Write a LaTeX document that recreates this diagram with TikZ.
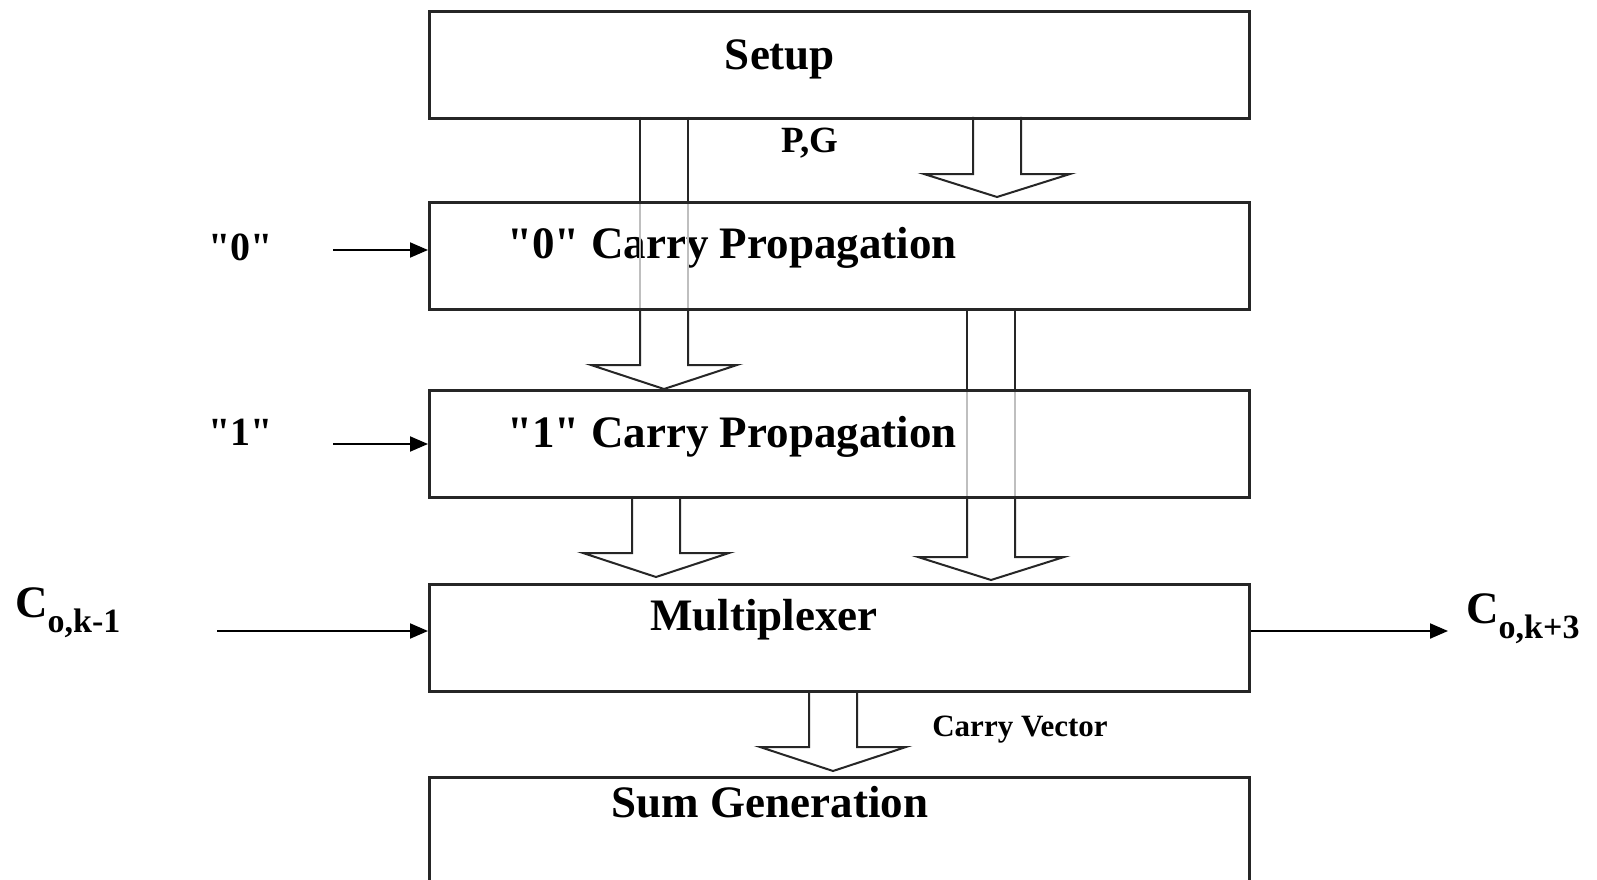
\documentclass[tikz,border=0pt]{standalone}
\usepackage{fontspec}
\setmainfont{Liberation Serif}
\usetikzlibrary{arrows.meta,calc}
\tikzset{
  blk/.style={draw=black!85, line width=2.6pt, minimum width=820pt, minimum height=107pt, inner sep=0pt, anchor=north west},
  bigtxt/.style={font=\fontsize{45}{54}\selectfont\bfseries, inner sep=0pt},
  midtxt/.style={font=\fontsize{40}{48}\selectfont\bfseries, inner sep=0pt},
  pgtxt/.style={font=\fontsize{37}{44}\selectfont\bfseries, inner sep=0pt},
  smtxt/.style={font=\fontsize{31}{38}\selectfont\bfseries, inner sep=0pt},
  arr/.style={line width=2pt, -{Triangle[length=18pt,width=15pt]}},
  hollow/.style={draw=black!85, line width=2pt, line join=miter},
  faint/.style={draw=black!25, line width=1.2pt}
}
% hollow arrow: #1 centre x, #2 top y, #3 wing y, #4 tip y
\newcommand\hollowarrow[4]{%
  \draw[hollow] (#1-24,#2) -- (#1-24,#3) -- (#1-73,#3) -- (#1,#4) -- (#1+73,#3) -- (#1+24,#3) -- (#1+24,#2);}
\newcommand\qq{\textquotedbl}
\begin{document}
\begin{tikzpicture}[x=1pt,y=-1pt]
\clip (0,0) rectangle (1597,880);
\useasboundingbox (0,0) rectangle (1597,880);
\fill[white] (0,0) rectangle (1597,880);

% boxes
\node[blk] (setup) at (428,10) {};
\node[blk] (zero) at (428,201) {};
\node[blk] (one) at (428,389) {};
\node[blk] (mux) at (428,583) {};
\node[blk, minimum height=140pt] (sum) at (428,776) {};

% box texts
\node[bigtxt] (setupT) at (780,59) {Setup};
\node[bigtxt] (zeroT) at (732,248) {\qq0\qq{} Carry Propagation};
\node[bigtxt] (oneT) at (732,437) {\qq1\qq{} Carry Propagation};
\node[bigtxt] (muxT) at (764,620) {Multiplexer};
\node[bigtxt] (sumT) at (770,802) {Sum Generation};

% side labels
\node[pgtxt] (pg) at (810,143) {P,G};
\node[smtxt] (cv) at (1020,730) {Carry Vector};
\node[midtxt] (l0) at (241,247) {\qq0\qq};
\node[midtxt] (l1) at (241,432) {\qq1\qq};
\node[bigtxt, anchor=west] (cin) at (15,613) {C\textsubscript{\fontsize{34}{40}\selectfont o,k-1}};
\node[bigtxt, anchor=west] (cout) at (1466,619) {C\textsubscript{\fontsize{34}{40}\selectfont o,k+3}};

% input / output arrows
\coordinate (a0) at (333,250);
\coordinate (a1) at (333,444);
\coordinate (ac) at (217,631);
\coordinate (ao) at (1448,631);
\draw[arr] (a0) -- (a0 -| zero.west);
\draw[arr] (a1) -- (a1 -| one.west);
\draw[arr] (ac) -- (ac -| mux.west);
\draw[arr] (ac -| mux.east) -- (ao);

% faint lines of the arrows that pass through boxes
\draw[faint] (640,201) -- (640,308) (688,201) -- (688,308);
\draw[faint] (967,389) -- (967,496) (1015,389) -- (1015,496);

% hollow arrows
\draw[hollow] (640,117) -- (640,201) (688,117) -- (688,201);
\hollowarrow{664}{308}{365}{389}
\hollowarrow{997}{117}{174}{197}
\draw[hollow] (967,308) -- (967,389) (1015,308) -- (1015,389);
\hollowarrow{991}{496}{557}{580}
\hollowarrow{656}{496}{553}{577}
\hollowarrow{833}{690}{747}{771}

% redraw the box outlines on top
\node[blk] at (428,10) {};
\node[blk] at (428,201) {};
\node[blk] at (428,389) {};
\node[blk] at (428,583) {};
\node[blk, minimum height=140pt] at (428,776) {};
\end{tikzpicture}
\end{document}
